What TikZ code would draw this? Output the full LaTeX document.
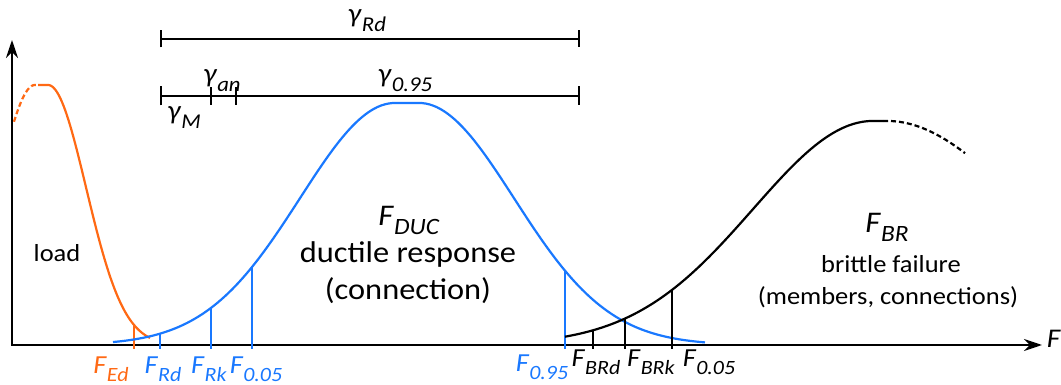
\documentclass[tikz,border=0pt]{standalone}
\usepackage{fontspec}
\setmainfont{Carlito}[FakeStretch=1.08]
\usetikzlibrary{arrows.meta, positioning}

\definecolor{loadorange}{RGB}{255,105,20}
\definecolor{ducblue}{RGB}{25,120,255}
% italic symbol with italic subscript
\newcommand{\fsub}[2]{\textit{#1}\raisebox{-0.3em}{\scalebox{0.78}{\textit{#2}}}}

\begin{document}
\begin{tikzpicture}[x=1pt, y=1pt,
    axis/.style={line width=2.4pt},
    curve/.style={line width=2.2pt},
    tickline/.style={line width=2pt},
    bar/.style={line width=1.8pt},
    flabel/.style={anchor=base, inner sep=0pt, font=\fontsize{26}{30}\selectfont},
    glabel/.style={anchor=base, inner sep=0pt, font=\fontsize{27}{32}\selectfont},
    bigtext/.style={anchor=base, inner sep=0pt, font=\fontsize{30}{35}\selectfont},
    smalltext/.style={anchor=base, inner sep=0pt, font=\fontsize{24.5}{29}\selectfont},
    declare function={
        orangef(\x)=260*exp(-0.5*(max(abs(\x-41.5)-6.5,0)/38)^2);
        bluef(\x)=242*exp(-0.5*(max(abs(\x-407)-12,0)/95)^2);
        blackl(\x)=224*exp(-0.5*(max(873-\x,0)/120)^2);
        blackr(\x)=224*exp(-0.5*(max(\x-887,0)/140)^2);
    }]
    \useasboundingbox (0,-40) rectangle (1061,345);

    % Axes
    \draw[axis, {Stealth[length=18pt,width=12pt]}-{Stealth[length=18pt,width=12pt]}]
        (12,305) -- (12,0) -- (1042,0);
    \node[flabel, font=\fontsize{27}{30}\selectfont] (F) at (1054,-3) {\textit{F}};

    % Load (orange)
    \draw[curve, loadorange, dashed, dash pattern=on 5pt off 3pt] plot[domain=14:38, samples=20] (\x,{orangef(\x)});
    \draw[curve, loadorange] plot[domain=38:150, samples=80] (\x,{orangef(\x)});
    \draw[tickline, loadorange] (134,{orangef(134)}) -- (134,-4);

    % Ductile response (blue)
    \draw[curve, ducblue] plot[domain=113:705, samples=160] (\x,{bluef(\x)});
    \foreach \t in {160,211,252,565} {
        \draw[tickline, ducblue] (\t,{bluef(\t)}) -- (\t,-4);
    }

    % Brittle failure (black)
    \draw[curve] plot[domain=565:883, samples=120] (\x,{blackl(\x)});
    \draw[curve, dashed, dash pattern=on 5pt off 3pt] plot[domain=883:965, samples=30] (\x,{blackr(\x)});
    \foreach \t in {593,625,672} {
        \draw[tickline] (\t,{blackl(\t)}) -- (\t,-4);
    }

    % Partial factor bars
    \draw[bar, {Bar[width=17pt]}-{Bar[width=17pt]}] (160,306) -- (580,306);
    \draw[bar, {Bar[width=19pt]}-{Bar[width=19pt]}] (160,249) -- (580,249);
    \draw[bar] (211,240) -- (211,258);
    \draw[bar] (236,240) -- (236,258);
    \node[glabel] (gRd) at (367,322) {\fsub{γ}{Rd}};
    \node[glabel] (gan) at (222,262) {\fsub{γ}{an}};
    \node[glabel] (g095) at (405,262) {\fsub{γ}{0.95}};
    \node[glabel] (gM) at (184,225) {\fsub{γ}{M}};

    % Axis labels
    \node[flabel, text=loadorange] (FEd) at (111,-29) {\fsub{F}{Ed}};
    \node[flabel, text=ducblue] (FRd) at (163,-29) {\fsub{F}{Rd}};
    \node[flabel, text=ducblue] (FRk) at (209,-29) {\fsub{F}{Rk}};
    \node[flabel, text=ducblue] (F005) at (256,-29) {\fsub{F}{0.05}};
    \node[flabel, text=ducblue] (F095) at (542,-27) {\fsub{F}{0.95}};
    \node[flabel] (FBRd) at (596,-22) {\fsub{F}{BRd}};
    \node[flabel] (FBRk) at (651,-22) {\fsub{F}{BRk}};
    \node[flabel] (FB005) at (709,-22) {\fsub{F}{0.05}};

    % Curve texts
    \node[smalltext] (load) at (57,83) {load};
    \node[bigtext] (FDUC) at (409,119) {\fsub{F}{DUC}};
    \node[bigtext] (duc) at (408,82) {ductile response};
    \node[bigtext] (conn) at (408,45) {(connection)};
    \node[bigtext] (FBR) at (887,112) {\fsub{F}{BR}};
    \node[smalltext] (brit) at (891,72) {brittle failure};
    \node[smalltext] (memb) at (888,40) {(members, connections)};
\end{tikzpicture}
\end{document}
